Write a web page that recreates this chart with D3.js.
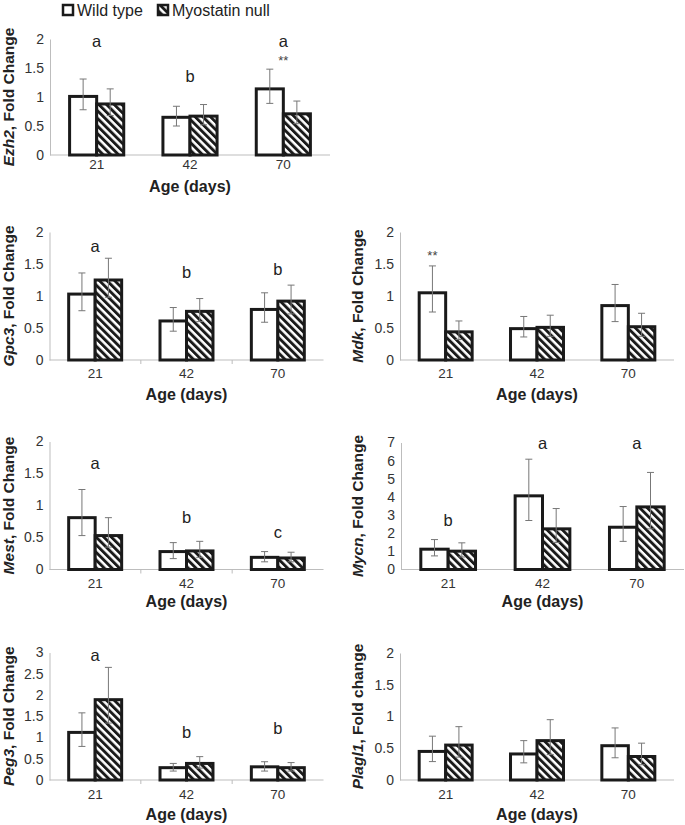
<!DOCTYPE html>
<html>
<head>
  <meta charset="utf-8">
  <script src="https://d3js.org/d3.v7.min.js"></script>
  <style>
    body { margin: 0; background: #fff; }
    text { font-family: "Liberation Sans", Arial, sans-serif; }
  </style>
</head>
<body>
  <script>
    // Categories and series
    var categories = ["21", "42", "70"];
    var seriesNames = ["Wild type", "Myostatin null"];

    // Fold change values (wild type / myostatin null), error bar bounds
    var ezh2Wt = [1.01, 0.65, 1.14], ezh2WtLo = [0.78, 0.50, 0.89], ezh2WtHi = [1.31, 0.84, 1.48];
    var ezh2Mn = [0.88, 0.67, 0.71], ezh2MnLo = [0.68, 0.52, 0.54], ezh2MnHi = [1.14, 0.87, 0.93];
    var ezh2Letters = ["a", "b", "a"], ezh2LetterY = [1.87, 1.26, 1.87];

    var gpc3Wt = [1.03, 0.61, 0.79], gpc3WtLo = [0.77, 0.45, 0.59], gpc3WtHi = [1.36, 0.82, 1.05];
    var gpc3Mn = [1.25, 0.76, 0.92], gpc3MnLo = [0.98, 0.60, 0.72], gpc3MnHi = [1.59, 0.96, 1.17];
    var gpc3Letters = ["a", "b", "b"], gpc3LetterY = [1.69, 1.28, 1.33];

    var mdkWt = [1.05, 0.49, 0.85], mdkWtLo = [0.75, 0.36, 0.60], mdkWtHi = [1.47, 0.68, 1.18];
    var mdkMn = [0.44, 0.51, 0.52], mdkMnLo = [0.32, 0.37, 0.37], mdkMnHi = [0.61, 0.70, 0.73];
    var mdkLetters = ["", "", ""], mdkLetterY = [0, 0, 0];

    var mestWt = [0.81, 0.28, 0.19], mestWtLo = [0.53, 0.17, 0.12], mestWtHi = [1.25, 0.42, 0.28];
    var mestMn = [0.53, 0.29, 0.18], mestMnLo = [0.35, 0.19, 0.12], mestMnHi = [0.81, 0.44, 0.27];
    var mestLetters = ["a", "b", "c"], mestLetterY = [1.57, 0.72, 0.50];

    var mycnWt = [1.12, 4.06, 2.33], mycnWtLo = [0.75, 2.70, 1.55], mycnWtHi = [1.65, 6.08, 3.47];
    var mycnMn = [1.01, 2.24, 3.45], mycnMnLo = [0.69, 1.49, 2.24], mycnMnHi = [1.47, 3.36, 5.35];
    var mycnLetters = ["b", "a", "a"], mycnLetterY = [2.40, 6.63, 6.63];

    var peg3Wt = [1.12, 0.29, 0.31], peg3WtLo = [0.79, 0.21, 0.21], peg3WtHi = [1.58, 0.39, 0.43];
    var peg3Mn = [1.89, 0.39, 0.29], peg3MnLo = [1.34, 0.28, 0.21], peg3MnHi = [2.65, 0.55, 0.41];
    var peg3Letters = ["a", "b", "b"], peg3LetterY = [2.80, 1.00, 1.08];

    var plagl1Wt = [0.45, 0.41, 0.54], plagl1WtLo = [0.29, 0.27, 0.35], plagl1WtHi = [0.69, 0.62, 0.82];
    var plagl1Mn = [0.55, 0.62, 0.37], plagl1MnLo = [0.36, 0.40, 0.24], plagl1MnHi = [0.84, 0.95, 0.58];
    var plagl1Letters = ["", "", ""], plagl1LetterY = [0, 0, 0];

    // significance stars: gene, category, series (null = group centre), y value
    var stars = [
      { gene: "Ezh2", cat: "70", s: null, y: 1.56 },
      { gene: "Mdk", cat: "21", s: 0, y: 1.56 }
    ];

    var panels = [
      { gene: "Ezh2", rest: ", Fold Change", max: 2, step: 0.5, wt: ezh2Wt, wtLo: ezh2WtLo, wtHi: ezh2WtHi, mn: ezh2Mn, mnLo: ezh2MnLo, mnHi: ezh2MnHi, letters: ezh2Letters, letterY: ezh2LetterY },
      { gene: "Gpc3", rest: ", Fold Change", max: 2, step: 0.5, wt: gpc3Wt, wtLo: gpc3WtLo, wtHi: gpc3WtHi, mn: gpc3Mn, mnLo: gpc3MnLo, mnHi: gpc3MnHi, letters: gpc3Letters, letterY: gpc3LetterY },
      { gene: "Mdk", rest: ", Fold Change", max: 2, step: 0.5, wt: mdkWt, wtLo: mdkWtLo, wtHi: mdkWtHi, mn: mdkMn, mnLo: mdkMnLo, mnHi: mdkMnHi, letters: mdkLetters, letterY: mdkLetterY },
      { gene: "Mest", rest: ", Fold Change", max: 2, step: 0.5, wt: mestWt, wtLo: mestWtLo, wtHi: mestWtHi, mn: mestMn, mnLo: mestMnLo, mnHi: mestMnHi, letters: mestLetters, letterY: mestLetterY },
      { gene: "Mycn", rest: ", Fold Change", max: 7, step: 1, wt: mycnWt, wtLo: mycnWtLo, wtHi: mycnWtHi, mn: mycnMn, mnLo: mycnMnLo, mnHi: mycnMnHi, letters: mycnLetters, letterY: mycnLetterY },
      { gene: "Peg3", rest: ", Fold Change", max: 3, step: 0.5, wt: peg3Wt, wtLo: peg3WtLo, wtHi: peg3WtHi, mn: peg3Mn, mnLo: peg3MnLo, mnHi: peg3MnHi, letters: peg3Letters, letterY: peg3LetterY },
      { gene: "Plagl1", rest: ", Fold change", max: 2, step: 0.5, wt: plagl1Wt, wtLo: plagl1WtLo, wtHi: plagl1WtHi, mn: plagl1Mn, mnLo: plagl1MnLo, mnHi: plagl1MnHi, letters: plagl1Letters, letterY: plagl1LetterY }
    ];

    // where each panel sits on the page
    var layout = [
      { x0: 50, x1: 330, yBase: 155, yTop: 39, labX: 14, tickY: 169, ageY: 191.5, xticks: false },
      { x0: 49.5, x1: 323.5, yBase: 360, yTop: 232, labX: 14, tickY: 378, ageY: 400, xticks: true },
      { x0: 400, x1: 674, yBase: 360, yTop: 232, labX: 363, tickY: 378, ageY: 400, xticks: false },
      { x0: 49.5, x1: 323.5, yBase: 569.5, yTop: 441.5, labX: 14, tickY: 588, ageY: 607, xticks: true },
      { x0: 401, x1: 684, yBase: 569.5, yTop: 442.5, labX: 363, tickY: 588, ageY: 607, xticks: false },
      { x0: 49.5, x1: 323.5, yBase: 780, yTop: 652.5, labX: 14, tickY: 799, ageY: 820, xticks: true },
      { x0: 400, x1: 674, yBase: 780, yTop: 653, labX: 363, tickY: 799, ageY: 820, xticks: false }
    ];

    var svg = d3.select("body").append("svg")
      .attr("width", 685)
      .attr("height", 825);

    // diagonal hatch for myostatin null
    svg.append("defs").append("pattern")
      .attr("id", "hatch")
      .attr("patternUnits", "userSpaceOnUse")
      .attr("width", 5.4)
      .attr("height", 5.4)
      .attr("patternTransform", "rotate(-45)")
      .call(p => {
        p.append("rect").attr("width", 5.4).attr("height", 5.4).attr("fill", "#fff");
        p.append("rect").attr("width", 2.9).attr("height", 5.4).attr("fill", "#1a1a1a");
      });

    var fills = ["#fff", "url(#hatch)"];

    panels.forEach((p, i) => drawPanel(p, layout[i]));

    function drawPanel(p, box) {
      var g = svg.append("g");

      var x = d3.scaleBand().domain(categories).range([box.x0, box.x1])
        .paddingInner(0.42).paddingOuter(0.21);
      var xs = d3.scaleBand().domain([0, 1]).range([0, x.bandwidth()]);
      var y = d3.scaleLinear().domain([0, p.max]).range([box.yBase, box.yTop]);

      // y axis
      var yAxis = g.append("g")
        .attr("transform", `translate(${box.x0},0)`)
        .call(d3.axisLeft(y)
          .tickValues(d3.range(0, p.max + p.step / 2, p.step))
          .tickSize(0).tickSizeOuter(0).tickPadding(6)
          .tickFormat(d => String(+d.toFixed(1))));
      yAxis.select(".domain").attr("stroke", "#bdbdbd");
      yAxis.selectAll("text").attr("font-size", 14).attr("fill", "#333")
        .attr("font-family", "Liberation Sans, Arial, sans-serif");

      // x axis line
      g.append("line")
        .attr("x1", box.x0).attr("x2", box.x1)
        .attr("y1", box.yBase).attr("y2", box.yBase)
        .attr("stroke", "#bdbdbd");

      if (box.xticks) {
        g.selectAll(".xt").data(categories.slice(1)).enter().append("line")
          .attr("x1", d => x(d) - x.step() * x.paddingInner() / 2)
          .attr("x2", d => x(d) - x.step() * x.paddingInner() / 2)
          .attr("y1", box.yBase).attr("y2", box.yBase + 4)
          .attr("stroke", "#bdbdbd");
      }

      g.selectAll(".xl").data(categories).enter().append("text")
        .attr("x", d => x(d) + x.bandwidth() / 2)
        .attr("y", box.tickY)
        .attr("text-anchor", "middle")
        .attr("font-size", 13.5)
        .attr("fill", "#333")
        .text(d => d);

      // bars
      var rows = [];
      categories.forEach((c, i) => {
        rows.push({ cat: c, s: 0, v: p.wt[i], lo: p.wtLo[i], hi: p.wtHi[i] });
        rows.push({ cat: c, s: 1, v: p.mn[i], lo: p.mnLo[i], hi: p.mnHi[i] });
      });

      g.selectAll(".bar").data(rows).enter().append("rect")
        .attr("x", d => x(d.cat) + xs(d.s))
        .attr("y", d => y(d.v))
        .attr("width", xs.bandwidth())
        .attr("height", d => y(0) - y(d.v))
        .attr("fill", d => fills[d.s])
        .attr("stroke", "#1a1a1a")
        .attr("stroke-width", 3);

      // error bars
      var eb = g.selectAll(".err").data(rows).enter().append("g")
        .attr("stroke", "#777").attr("stroke-width", 1);
      var cx = d => x(d.cat) + xs(d.s) + xs.bandwidth() / 2;
      eb.append("line")
        .attr("x1", cx).attr("x2", cx)
        .attr("y1", d => y(d.lo)).attr("y2", d => y(d.hi));
      eb.append("line")
        .attr("x1", d => cx(d) - 3.5).attr("x2", d => cx(d) + 3.5)
        .attr("y1", d => y(d.hi)).attr("y2", d => y(d.hi));
      eb.append("line")
        .attr("x1", d => cx(d) - 3.5).attr("x2", d => cx(d) + 3.5)
        .attr("y1", d => y(d.lo)).attr("y2", d => y(d.lo));

      // group letters
      g.selectAll(".let").data(categories).enter().append("text")
        .attr("x", d => x(d) + x.bandwidth() / 2)
        .attr("y", (d, i) => y(p.letterY[i]))
        .attr("text-anchor", "middle")
        .attr("font-size", 16.5)
        .attr("fill", "#222")
        .text((d, i) => p.letters[i]);

      // stars
      stars.filter(s => s.gene === p.gene).forEach(s => {
        var sx = s.s === null ? x(s.cat) + x.bandwidth() / 2 : x(s.cat) + xs(s.s) + xs.bandwidth() / 2;
        g.append("text")
          .attr("x", sx)
          .attr("y", y(s.y))
          .attr("text-anchor", "middle")
          .attr("font-size", 13)
          .attr("fill", "#444")
          .text("**");
      });

      // axis titles
      var yl = g.append("text")
        .attr("transform", `translate(${box.labX},${(box.yBase + box.yTop) / 2}) rotate(-90)`)
        .attr("text-anchor", "middle")
        .attr("font-size", 15.5)
        .attr("font-weight", "bold")
        .attr("fill", "#222");
      yl.append("tspan").attr("font-style", "italic").text(p.gene);
      yl.append("tspan").text(p.rest);

      g.append("text")
        .attr("x", (box.x0 + box.x1) / 2)
        .attr("y", box.ageY)
        .attr("text-anchor", "middle")
        .attr("font-size", 16)
        .attr("font-weight", "bold")
        .attr("fill", "#222")
        .text("Age (days)");
    }

    // legend
    var legendX = [62, 157];
    var leg = svg.append("g").selectAll("g").data(seriesNames).enter().append("g")
      .attr("transform", (d, i) => `translate(${legendX[i]},4)`);
    leg.append("rect")
      .attr("x", 1).attr("y", 1)
      .attr("width", 10).attr("height", 10)
      .attr("fill", (d, i) => fills[i])
      .attr("stroke", "#1a1a1a")
      .attr("stroke-width", 2.5);
    leg.append("text")
      .attr("x", 15)
      .attr("y", 12)
      .attr("font-size", 16)
      .attr("fill", "#222")
      .text(d => d);
  </script>
</body>
</html>
